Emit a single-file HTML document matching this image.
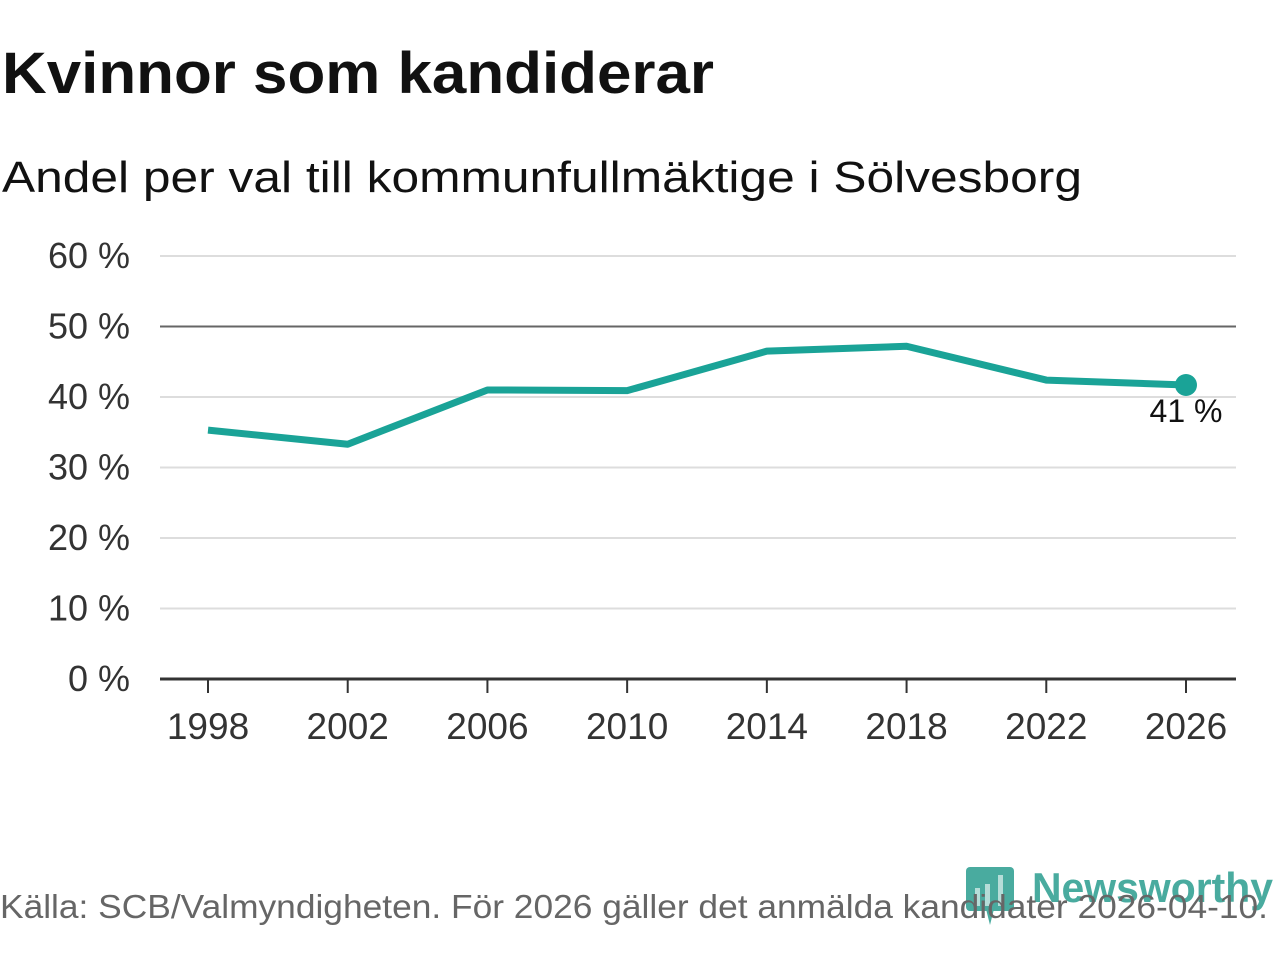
<!DOCTYPE html>
<html><head><meta charset="utf-8"><style>
body{margin:0;width:1280px;height:960px;background:#fff;font-family:"Liberation Sans",sans-serif;overflow:hidden}
</style></head><body>
<svg width="1280" height="960">
<text x="2" y="93" font-size="58" font-weight="bold" fill="#111" textLength="712" lengthAdjust="spacingAndGlyphs">Kvinnor som kandiderar</text>
<text x="2" y="192" font-size="44" fill="#111" textLength="1080" lengthAdjust="spacingAndGlyphs">Andel per val till kommunfullmäktige i Sölvesborg</text>
<g id="grid"></g><g id="xax"></g><g id="series"></g>
<g opacity="0.85">
<rect x="966" y="867" width="48" height="44" rx="4" fill="#2a9d8f"/>
<polygon points="985,905 995,905 990,925" fill="#2a9d8f"/>
<rect x="975" y="888" width="5" height="18" fill="#fff" opacity="0.6"/><rect x="985" y="884" width="5" height="22" fill="#fff" opacity="0.6"/><rect x="998" y="875" width="5" height="31" fill="#fff" opacity="0.6"/>
<text x="1032" y="902" font-size="42" font-weight="bold" fill="#2a9d8f" textLength="241" lengthAdjust="spacingAndGlyphs">Newsworthy</text>
</g>
<text x="0" y="918" font-size="33" fill="#666" textLength="1268" lengthAdjust="spacingAndGlyphs">Källa: SCB/Valmyndigheten. För 2026 gäller det anmälda kandidater 2026-04-10.</text>
</svg>
<script>
const years=[1998,2002,2006,2010,2014,2018,2022,2026];
const values=[35.3,33.3,41.0,40.9,46.5,47.2,42.4,41.7];
const yTicks=[0,10,20,30,40,50,60];
const NS="http://www.w3.org/2000/svg";
const x=v=>208+(v-1998)*(1186-208)/28;
const y=v=>679-v*(679-256)/60;
function mk(t,a,p,txt){const e=document.createElementNS(NS,t);for(const k in a)e.setAttribute(k,a[k]);if(txt!=null)e.textContent=txt;p.appendChild(e);return e;}
const g=document.getElementById('grid');
yTicks.forEach(v=>{
 const l=mk('line',{x1:160,x2:1236,y1:y(v),y2:y(v),stroke:v==50?'#666':(v==0?'#333':'#ddd'),'stroke-width':v==0?3:2},g);
 
 
 const t=mk('text',{x:130,y:y(v)+12,'text-anchor':'end','font-size':36,fill:'#333'},g,v+' %');
 
 
});
const xa=document.getElementById('xax');
years.forEach(v=>{
 const l=mk('line',{x1:x(v),x2:x(v),y1:679,y2:693,stroke:'#333','stroke-width':2},xa);
 
 
 const t=mk('text',{x:x(v),y:739,'text-anchor':'middle','font-size':37,fill:'#333'},xa,v);
 
 
});
const s=document.getElementById('series');
const p=mk('polyline',{points:years.map((v,i)=>x(v)+','+y(values[i])).join(' '),fill:'none',stroke:'#1aa397','stroke-width':7,'stroke-linejoin':'round'},s);


const n=years.length-1;
const c=mk('circle',{cx:x(years[n]),cy:y(values[n]),r:11,fill:'#1aa397'},s);


const lb=mk('text',{x:x(years[n]),y:y(values[n])+37,'text-anchor':'middle','font-size':32,fill:'#111'},s,Math.floor(values[n])+' %');


</script>
</body></html>
